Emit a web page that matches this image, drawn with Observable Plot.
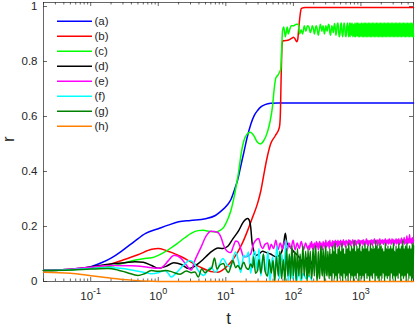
<!DOCTYPE html>
<html><head><meta charset="utf-8">
<script src="https://cdn.jsdelivr.net/npm/d3@7"></script>
<script src="https://cdn.jsdelivr.net/npm/@observablehq/plot@0.6"></script>
<style>body{margin:0;background:#fff;}</style>
</head><body><div id="chart"></div>
<script>
// ---- data (t, r) ----
const seriesNames = ["(a)","(b)","(c)","(d)","(e)","(f)","(g)","(h)"];
const seriesColors = ["#0000ff","#ff0000","#00ff00","#000000","#ff00ff","#00ffff","#008000","#ff8000"];

const serA = [[0.02,.04],[0.05,.043],[0.1,.054],[0.15,.07],[0.2,.085],[0.3,.114],[0.45,.147],[0.65,.175],[1.0,.192],[1.4,.205],[2.0,.217],[3.0,.222],[5.0,.228],[7.0,.24],[8.5,.256],[10.5,.278],[12,.30],[13.5,.335],[15,.37],[17,.43],[18.5,.47],[20.5,.52],[23.5,.573],[26.5,.605],[29.5,.622],[33,.635],[38,.643],[46,.648],[60,.649],[6000,.649]];
const serB = [[0.02,.04],[0.05,.043],[0.1,.05],[0.2,.064],[0.3,.078],[0.5,.097],[0.8,.117],[1.0,.12],[1.3,.113],[1.6,.105],[2.2,.09],[3.1,.07],[4.2,.052],[5.4,.04],[6.5,.035],[7.6,.034],[9,.042],[10.7,.058],[12.7,.08],[15,.107],[18,.145],[21,.185],[25,.235],[29.5,.284],[33,.33],[36,.38],[40,.44],[46,.50],[54,.53],[62,.56],[64,.6],[66,.75],[68,.86],[70,.875],[78,.876],[85,.878],[95,.885],[100,.888],[106,.882],[112,.872],[116,.88],[120,.92],[126,.97],[131,.993],[150,.996],[6000,.996]];
const serC = [[0.02,.04],[0.05,.043],[0.1,.05],[0.18,.054],[0.3,.066],[0.44,.077],[0.6,.083],[0.8,.086],[1.0,.095],[1.2,.105],[1.5,.12],[1.9,.138],[2.5,.16],[3.06,.175],[3.9,.185],[4.6,.186],[5.8,.182],[7,.18],[8.2,.186],[9.3,.197],[10.5,.222],[11.9,.258],[13.2,.305],[14.3,.35],[15.5,.40],[17,.47],[18.4,.51],[20.5,.535],[23,.543],[26,.53],[29,.508],[32.5,.50],[36,.51],[41.5,.545],[45,.58],[49,.635],[52,.7],[55,.74],[59,.75],[62,.76],[65,.772],[67,.84],[69,.91],[72,.925],[76,.89],[81,.925],[84,.9],[88,.915],[93,.93],[100,.93],[110,.935],[118,.935],[124,.9],[130,.915],[137,.9],[145,.93],[153,.91],[162,.93]];
const serD = [[0.02,.04],[0.05,.045],[0.1,.053],[0.2,.064],[0.32,.068],[0.45,.072],[0.6,.07],[0.8,.058],[1.0,.048],[1.3,.055],[1.7,.068],[2.2,.062],[2.8,.047],[3.3,.052],[3.9,.065],[4.6,.08],[5.4,.097],[6.5,.113],[7.6,.122],[9,.12],[10.7,.128],[12.7,.155],[15.5,.185],[18,.215],[21,.229],[22,.225],[23.3,.2],[24.5,.14],[25.8,.113],[28,.095],[31,.1],[35,.11],[40,.105],[46,.1],[55,.09],[65,.1],[72,.14],[76,.175],[80,.14],[90,.125],[100,.11],[120,.09],[140,.07],[166,.088],[190,.06]];
const serE = [[0.02,.04],[0.05,.045],[0.1,.052],[0.2,.058],[0.4,.057],[0.7,.052],[1.0,.048],[1.15,.052],[1.4,.075],[1.72,.095],[2.18,.084],[2.6,.06],[2.86,.047],[3.1,.042],[3.4,.07],[4.3,.125],[5.1,.165],[6,.183],[7.6,.178],[8.5,.16],[9.3,.131],[10.5,.11],[11.8,.105],[13,.13],[14,.147],[15,.145],[16.6,.12],[18.4,.09],[21,.092],[23.3,.1],[25.5,.135],[27.6,.149],[30.6,.156],[33,.13],[35,.12],[38,.135],[41.5,.14],[44,.115],[47,.135],[51,.12],[55,.15],[59,.115],[64,.14],[69,.118],[74,.145],[80,.11],[86,.14],[92,.12],[99,.15],[106,.115],[114,.14],[122,.12],[131,.145],[141,.115],[152,.14],[162,.12]];
const serF = [[0.02,.04],[0.05,.043],[0.1,.047],[0.2,.05],[0.32,.046],[0.44,.04],[0.6,.034],[0.8,.028],[1.0,.032],[1.25,.04],[1.4,.03],[1.55,.016],[1.75,.025],[2.0,.04],[2.5,.065],[2.9,.076],[3.4,.066],[3.9,.04],[4.7,.022],[5.4,.04],[6,.052],[7.1,.033],[8,.06],[9,.084],[10.5,.06],[11.8,.052],[13,.09],[14,.107],[15.5,.07],[16.6,.033],[18.4,.095],[20,.088],[21.7,.107],[23.3,.03],[25,.085],[27,.11],[29,.04],[31,.12],[33,.02],[36,.1],[39,.03],[42,.11],[45,.0],[49,.09],[53,.03],[57,.13],[62,.01],[67,.1],[72,.04],[78,.15],[84,.0],[90,.09],[97,.01],[104,.06],[112,.0],[120,.04],[130,.0],[140,.03],[155,.01],[170,.02],[190,.0]];
const serG = [[0.02,.04],[0.05,.042],[0.1,.045],[0.18,.047],[0.25,.042],[0.35,.032],[0.5,.022],[0.62,.028],[0.79,.04],[1.0,.037],[1.3,.04],[1.6,.035],[2.1,.026],[2.6,.038],[3.1,.032],[3.5,.035],[3.9,.016],[4.4,.045],[4.9,.032],[5.4,.04],[6.2,.05],[6.8,.085],[7.4,.045],[8.2,.06],[9.3,.065],[10,.045],[11,.033],[12,.06],[12.7,.076],[14,.05],[15,.058],[16.5,.045],[18.4,.07],[20,.05],[21.7,.044],[23.3,.064],[25,.05],[25.8,.09],[27.5,.03],[29.5,.04],[31,.08],[33,.03],[36,.1],[38,.04],[41.5,.02],[44,.08],[47,.03],[50,.076],[53,.0],[56,.09],[60,.02],[63,.11],[67,.01],[71,.08],[75,.0],[79,.12],[83,.02],[87,.1],[91,.01],[95,.13],[100,.02],[105,.11],[110,.0],[115,.12],[120,.02],[126,.1],[132,.01],[138,.13],[145,.02],[152,.11],[160,.0],[165,.12]];
const serH = [[0.02,.034],[0.05,.03],[0.1,.021],[0.2,.012],[0.4,.005],[0.8,.001],[1.2,0],[6000,0]];

// late-time oscillating tails (shared sample times, t >= 170)
const tailT = [170,173.8,177.8,182,186.2,190.5,195,199.5,204.2,208.9,213.8,218.8,223.9,229.1,234.4,239.9,245.5,251.2,257,263,269.2,275.4,281.8,288.4,295.1,302,309,316.2,323.6,331.1,338.8,346.7,354.8,363.1,371.5,380.2,389.1,398.1,407.4,416.9,426.6,436.5,446.7,457.1,467.7,478.6,489.8,501.2,512.9,524.8,537,549.5,562.3,575.4,588.8,602.6,616.6,631,645.7,660.7,676.1,691.8,707.9,724.4,741.3,758.6,776.2,794.3,812.8,831.8,851.1,871,891.3,912,933.3,955,977.2,1000,1023,1047,1072,1096,1122,1148,1175,1202,1230,1259,1288,1318,1349,1380,1413,1445,1479,1514,1549,1585,1622,1660,1698,1738,1778,1820,1862,1905,1950,1995,2042,2089,2138,2188,2239,2291,2344,2399,2455,2512,2570,2630,2692,2754,2818,2884,2951,3020,3090,3162,3236,3311,3388,3467,3548,3631,3715,3802,3890,3981,4074,4169,4266,4365,4467,4571,4677,4786,4898,5012,5129,5248,5370,5495,5623,5754,5888,6000];
const tailC = [.925,.915,.905,.91,.92,.93,.925,.915,.9,.91, .925,.93,.92,.905,.895,.91,.925,.935,.925,.91, .92,.93,.915,.9,.915,.93,.92,.91,.925,.935, .93,.905,.895,.915,.93,.92,.905,.925,.938,.92, .895,.91,.935,.94,.91,.89,.9,.935,.94,.905, .89,.915,.94,.93,.895,.89,.925,.94,.91,.89, .94,.89,.94,.895,.94,.89,.935,.89,.94,.89, .94,.892,.94,.89,.94,.89,.938,.89,.94,.89, .94,.89,.94,.89,.94,.89,.94,.89,.94,.89, .94,.89,.94,.89,.94,.89,.94,.89,.94,.89, .94,.89,.94,.89,.94,.89,.94,.89,.94,.89, .94,.89,.94,.89,.94,.89,.94,.89,.94,.89, .94,.89,.94,.89,.94,.89,.94,.89,.94,.89, .94,.89,.94,.89,.94,.89,.94,.89,.94,.89, .94,.89,.94,.89,.94,.89,.94,.89,.94,.89, .94,.89,.94,.89,.94,.89];
const tailE = [.13,.115,.14,.125,.145,.12,.135,.115,.14,.13, .12,.145,.125,.14,.115,.135,.145,.12,.14,.13, .115,.145,.13,.14,.12,.15,.125,.14,.13,.145, .12,.15,.13,.14,.125,.148,.13,.145,.12,.15, .135,.145,.125,.15,.13,.145,.135,.15,.125,.145, .13,.152,.135,.145,.125,.15,.14,.145,.13,.152, .135,.15,.13,.145,.14,.152,.13,.148,.135,.15, .13,.145,.14,.152,.135,.15,.13,.148,.14,.15, .135,.152,.13,.145,.14,.155,.135,.15,.13,.148, .14,.15,.135,.152,.13,.15,.14,.155,.135,.148, .14,.152,.13,.15,.14,.155,.135,.15,.14,.152, .135,.15,.14,.155,.13,.15,.14,.152,.135,.155, .14,.15,.135,.155,.14,.152,.13,.15,.14,.155, .135,.152,.14,.155,.135,.15,.14,.158,.135,.152, .14,.16,.135,.152,.14,.165,.138,.155,.14,.17, .14,.155,.138,.16,.14,.15];
const tailG = [.02,.06,.11,.05,.01,.04,.12,.08,.02,.09, .13,.06,.0,.05,.11,.03,.01,.1,.13,.04, .02,.12,.07,.0,.09,.13,.03,.02,.11,.06, .01,.12,.02,.1,.0,.13,.03,.11,.01,.14, .02,.1,.0,.12,.03,.13,.01,.11,.02,.14, .0,.12,.03,.1,.01,.13,.02,.12,.0,.14, .03,.11,.01,.13,.02,.12,.0,.15,.02,.11, .01,.13,.03,.12,.0,.14,.02,.11,.01,.13, .02,.12,.0,.14,.03,.12,.01,.13,.02,.11, .0,.14,.02,.12,.01,.13,.03,.12,.0,.15, .02,.13,.01,.12,.0,.14,.02,.13,.01,.12, .03,.11,.0,.14,.02,.12,.01,.13,.02,.12, .0,.13,.03,.12,.01,.14,.02,.11,.0,.13, .02,.12,.01,.14,.03,.12,.0,.13,.02,.15, .01,.12,.02,.13,.0,.14,.03,.12,.01,.13, .02,.12,.0,.14,.01,.13];

// axis ticks
const xMajor = [0.1, 1, 10, 100, 1000];
const xExp = ["-1", "0", "1", "2", "3"];
const xMinor = [0.02,0.03,0.04,0.05,0.06,0.07,0.08,0.09,0.2,0.3,0.4,0.5,0.6,0.7,0.8,0.9,2,3,4,5,6,7,8,9,20,30,40,50,60,70,80,90,200,300,400,500,600,700,800,900,2000,3000,4000,5000,6000];
const yTicks = [0, 0.2, 0.4, 0.6, 0.8, 1];
const yLabels = ["0", "0.2", "0.4", "0.6", "0.8", "1"];

// ---- build table ----
const heads = [serA, serB, serC, serD, serE, serF, serG, serH];
const tails = {2: tailC, 4: tailE, 6: tailG};
const series = heads.map((h, i) => {
  const rows = h.map(([t, r]) => ({t, r, s: seriesNames[i]}));
  if (tails[i]) tailT.forEach((t, j) => rows.push({t, r: tails[i][j], s: seriesNames[i]}));
  return rows;
});

const W = 415, H = 330, mL = 43, mR = 2, mT = 2, mB = 49;
const innerW = W - mL - mR, innerH = H - mT - mB;
const ink = "#262626";

const plot = Plot.plot({
  width: W, height: H,
  marginLeft: mL, marginRight: mR, marginTop: mT, marginBottom: mB,
  style: {fontFamily: "'Liberation Sans', Arial, sans-serif", fontSize: "11.5px", color: ink, background: "#fff"},
  x: {type: "log", domain: [0.02, 6000], axis: null},
  y: {domain: [0, 1.0145], axis: null},
  marks: [
    Plot.frame({stroke: ink, strokeWidth: 0.7}),
    Plot.tickX(xMajor, {x: d => d, insetTop: innerH - 4, stroke: ink, strokeWidth: 0.7}),
    Plot.tickX(xMajor, {x: d => d, insetBottom: innerH - 4, stroke: ink, strokeWidth: 0.7}),
    Plot.tickX(xMinor, {x: d => d, insetTop: innerH - 2.5, stroke: ink, strokeWidth: 0.7}),
    Plot.tickX(xMinor, {x: d => d, insetBottom: innerH - 2.5, stroke: ink, strokeWidth: 0.7}),
    Plot.tickY(yTicks, {y: d => d, insetRight: innerW - 4, stroke: ink, strokeWidth: 0.7}),
    Plot.tickY(yTicks, {y: d => d, insetLeft: innerW - 4, stroke: ink, strokeWidth: 0.7}),
    Plot.text(yTicks, {y: d => d, frameAnchor: "left", dx: -6, textAnchor: "end", text: (d, i) => yLabels[i], fill: ink}),
    Plot.text(xMajor, {x: d => d, frameAnchor: "bottom", dy: 18, text: () => "10", fill: ink}),
    ...series.map((rows, i) => Plot.line(rows, {x: "t", y: "r", stroke: seriesColors[i], strokeWidth: 1.5, curve: "monotone-x"})),
    Plot.text(["t"], {frameAnchor: "bottom", dy: 42, text: d => d, fontSize: 17, fill: ink}),
    Plot.text(["r"], {frameAnchor: "left", dx: -35, rotate: -90, text: d => d, fontSize: 17, fill: ink})
  ]
});
document.getElementById("chart").appendChild(plot);

// superscript exponents on the log-axis labels
const svgNode = plot.tagName.toLowerCase() === "svg" ? plot : plot.querySelector("svg");
const svg = d3.select(svgNode);
svg.selectAll("text").filter(function() { return this.textContent === "10"; }).each(function(d, i) {
  d3.select(this).append("tspan").attr("dy", "-6").attr("font-size", "9px").text(xExp[i]);
});

// legend inside the axes (top-left)
const lg = svg.append("g").attr("font-size", "11.5px").attr("fill", ink).attr("text-anchor", "start");
seriesNames.forEach((name, i) => {
  const y = 21.3 + 15 * i;
  lg.append("line").attr("x1", 57).attr("x2", 92).attr("y1", y).attr("y2", y)
    .attr("stroke", seriesColors[i]).attr("stroke-width", 1.5);
  lg.append("text").attr("x", 94.5).attr("y", y).attr("dy", "0.35em").attr("text-anchor", "start").text(name);
});
</script>
</body></html>
